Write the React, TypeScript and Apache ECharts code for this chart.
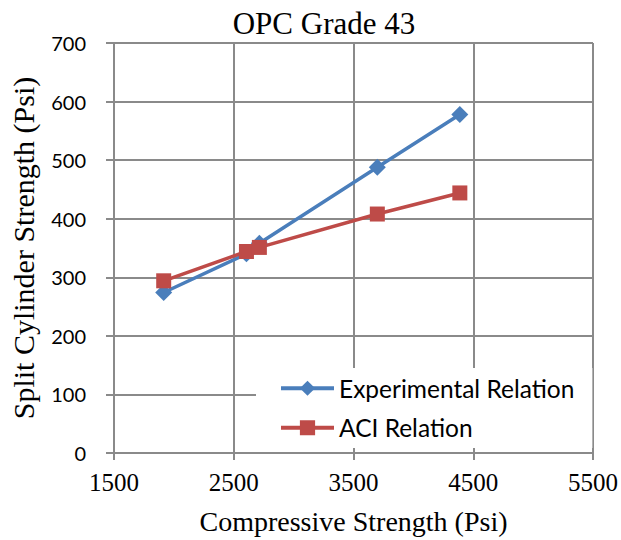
import React, { useEffect, useRef } from "react";
import * as echarts from "echarts";

const compressiveStrength = [1915, 2606, 2714, 3699, 4388];
const experimentalRelation = [274, 340, 358, 488, 578];
const aciRelation = [294, 344, 351, 408, 444];
const seriesNames = ["Experimental Relation", "ACI Relation"];
const titleText = "OPC Grade 43";
const xAxisName = "Compressive Strength (Psi)";
const yAxisName = "Split Cylinder Strength (Psi)";

const SERIF = "'Liberation Serif', 'Times New Roman', serif";
const SANS = "Lato, 'Noto Sans', sans-serif";
const GRID = "#8a8a8a";
const BLUE = "#4a7ebb";
const RED = "#be4b48";

export default function App() {
  const ref = useRef<HTMLDivElement>(null);
  useEffect(() => {
    document.body.style.margin = "0";
    const chart = echarts.init(ref.current!, null, { renderer: "svg" });
    const pair = (ys: number[]) => compressiveStrength.map((x, i) => [x, ys[i]]);
    chart.setOption({
      animation: false,
      backgroundColor: "#fff",
      title: {
        text: titleText,
        left: 319,
        top: 3,
        textAlign: "center",
        textStyle: { fontFamily: SERIF, fontSize: 31, fontWeight: "normal", color: "#000" },
      },
      grid: { left: 111, right: 28, top: 43, bottom: 87, containLabel: false },
      legend: {
        left: 256,
        top: 368,
        orient: "vertical",
        backgroundColor: "#fff",
        padding: [7.75, 18, 7.75, 23],
        itemWidth: 53,
        itemHeight: 19,
        itemGap: 14.5,
        lineStyle: { width: 4 },
        textStyle: { fontFamily: SANS, fontSize: 24.5, color: "#000" },
        data: seriesNames,
      },
      xAxis: {
        type: "value",
        min: 1500,
        max: 5500,
        interval: 1000,
        name: xAxisName,
        nameLocation: "middle",
        nameGap: 54,
        nameTextStyle: { fontFamily: SERIF, fontSize: 28, color: "#000" },
        axisLine: { show: true, lineStyle: { color: GRID, width: 2 } },
        axisTick: { show: true, length: 7, inside: false, lineStyle: { color: GRID, width: 2 } },
        axisLabel: {
          fontFamily: SERIF,
          fontSize: 25,
          color: "#000",
          margin: 17,
          formatter: (v: number) => String(v),
        },
        splitLine: { show: true, lineStyle: { color: GRID, width: 2 } },
      },
      yAxis: {
        type: "value",
        min: 0,
        max: 700,
        interval: 100,
        name: yAxisName,
        nameLocation: "middle",
        nameGap: 76,
        nameTextStyle: { fontFamily: SERIF, fontSize: 30, color: "#000" },
        axisLine: { show: true, lineStyle: { color: GRID, width: 2 } },
        axisTick: { show: true, length: 8, inside: false, lineStyle: { color: GRID, width: 2 } },
        axisLabel: { fontFamily: SANS, fontSize: 20, color: "#000", margin: 28 },
        splitLine: { show: true, lineStyle: { color: GRID, width: 2 } },
      },
      series: [
        {
          name: seriesNames[0],
          type: "line",
          data: pair(experimentalRelation),
          symbol: "diamond",
          symbolSize: 17,
          color: BLUE,
          lineStyle: { width: 3.5, color: BLUE },
          itemStyle: { color: BLUE },
          z: 3,
        },
        {
          name: seriesNames[1],
          type: "line",
          data: pair(aciRelation),
          symbol: "rect",
          symbolSize: 15,
          color: RED,
          lineStyle: { width: 3.5, color: RED },
          itemStyle: { color: RED },
          z: 4,
        },
      ],
    });
    return () => chart.dispose();
  }, []);
  return <div ref={ref} style={{ width: 621, height: 540 }} />;
}
